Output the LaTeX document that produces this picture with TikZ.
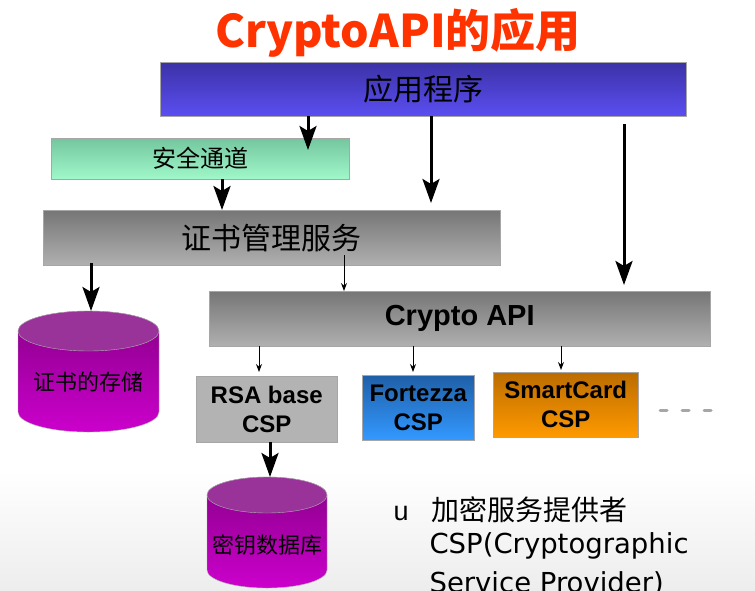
\documentclass[tikz,border=0pt]{standalone}
\usepackage{fontspec}
\setmainfont{Liberation Sans}
\newfontfamily\cjk{Noto Sans CJK SC}
\newfontfamily\comic{DejaVu Sans}
\usetikzlibrary{arrows.meta, positioning}

\definecolor{titlered}{HTML}{FF3300}
\definecolor{apptop}{HTML}{3B32A6}
\definecolor{appbot}{HTML}{5B4EF2}
\definecolor{safetop}{HTML}{74C69E}
\definecolor{safebot}{HTML}{A0F8CA}
\definecolor{graytop}{HTML}{767676}
\definecolor{graybot}{HTML}{B0B0B0}
\definecolor{rsafill}{HTML}{B3B3B3}
\definecolor{forttop}{HTML}{1F5FA8}
\definecolor{fortbot}{HTML}{3399FF}
\definecolor{smarttop}{HTML}{BB6C00}
\definecolor{smartbot}{HTML}{FF9A00}
\definecolor{cylcap}{HTML}{993399}
\definecolor{cyltop}{HTML}{880088}
\definecolor{cylbot}{HTML}{CC00CC}

\tikzset{
	box/.style={draw=gray!70, anchor=north west, inner sep=0pt, align=center},
	cjktext/.style={font=\cjk\fontsize{#1}{#1}\selectfont},
	csptext/.style={font=\bfseries\fontsize{24}{29}\selectfont},
	bigarrow/.style={line width=3pt, -{Stealth[length=24pt, width=17pt, inset=5pt]}},
	smallarrow/.style={line width=1pt, -{Stealth[length=8pt, width=6pt]}},
}

\begin{document}
\begin{tikzpicture}[x=1pt, y=1pt]
	\useasboundingbox (0,0) rectangle (755,-590);
	\clip (0,0) rectangle (755,-590);
	% Background and title:
	\shade[top color=white, bottom color=gray!14] (0,-470) rectangle (755,-590);
	\node[font=\cjk\bfseries\fontsize{45}{50}\selectfont, text=titlered] (title) at (398,-33) {CryptoAPI的应用};

	% Boxes:
	\node[box, top color=apptop, bottom color=appbot, minimum width=526, minimum height=54, cjktext=30] (app) at (160,-62) {应用程序};
	\node[box, top color=safetop, bottom color=safebot, minimum width=298, minimum height=41, cjktext=24] (safe) at (51,-138) {安全通道};
	\node[box, top color=graytop, bottom color=graybot, minimum width=457, minimum height=55, cjktext=30] (cert) at (43,-210) {证书管理服务};
	\node[box, top color=graytop, bottom color=graybot, minimum width=501, minimum height=55, font=\bfseries\fontsize{29}{32}\selectfont] (api) at (209,-291) {Crypto API};
	\node[box, fill=rsafill, minimum width=141, minimum height=66, csptext] (rsa) at (196,-376) {RSA base\\CSP};
	\node[box, top color=forttop, bottom color=fortbot, minimum width=112, minimum height=65, csptext] (fort) at (362,-375) {Fortezza\\CSP};
	\node[box, top color=smarttop, bottom color=smartbot, minimum width=145, minimum height=65, csptext] (smart) at (493,-372) {SmartCard\\CSP};
	\draw[gray!70, line width=3pt, line cap=round, dash pattern=on 7pt off 15pt] (660,-410) -- (714,-410);

	% Cylinders:
	\shade[top color=cyltop, bottom color=cylbot, draw=gray!60] (18,-331) -- (18,-412) arc[start angle=180, end angle=360, x radius=70.5, y radius=20] -- (159,-331) arc[start angle=0, end angle=180, x radius=70.5, y radius=20] -- cycle;
	\filldraw[fill=cylcap, draw=gray!60] (88.5,-331) ellipse[x radius=70.5, y radius=20];
	\node[cjktext=22] (certstore) at (89,-382) {证书的存储};
	\coordinate (certtop) at (91,-311);

	\shade[top color=cyltop, bottom color=cylbot, draw=gray!60] (207,-495) -- (207,-570) arc[start angle=180, end angle=360, x radius=60, y radius=18] -- (327,-495) arc[start angle=0, end angle=180, x radius=60, y radius=18] -- cycle;
	\filldraw[fill=cylcap, draw=gray!60] (267,-495) ellipse[x radius=60, y radius=18];
	\node[cjktext=22] (keydb) at (267,-545) {密钥数据库};
	\coordinate (keytop) at (270,-477);

	% Arrows:
	\draw[bigarrow, shorten >=-12pt] (app.south -| 308,0) -- (safe.north -| 308,0);
	\draw[bigarrow, shorten >=7pt] (app.south -| 431,0) -- (cert.north -| 431,0);
	\draw[bigarrow, shorten <=8pt, shorten >=6pt] (app.south -| 624,0) -- (api.north -| 624,0);
	\draw[bigarrow] (safe.south -| 222,0) -- (cert.north -| 222,0);
	\draw[bigarrow, shorten <=-2pt] (cert.south -| certtop) -- (certtop);
	\draw[bigarrow] (rsa.south -| keytop) -- (keytop);
	\draw[smallarrow, shorten <=-10pt] (cert.south -| 344,0) -- (api.north -| 344,0);
	\draw[smallarrow, shorten >=4pt] (api.south -| 259,0) -- (rsa.north -| 259,0);
	\draw[smallarrow, shorten >=3pt] (api.south -| 413,0) -- (fort.north -| 413,0);
	\draw[smallarrow, shorten >=2pt] (api.south -| 561,0) -- (smart.north -| 561,0);

	% Note:
	\node[anchor=base west, font=\fontsize{27}{30}\selectfont] (bullet) at (390,-520) {u};
	\node[anchor=base west, cjktext=28] (cspcn) at (428,-520) {加密服务提供者};
	\node[anchor=base west, font=\comic\fontsize{27.5}{30}\selectfont] (cspen) at (426,-553) {CSP(Cryptographic};
	\node[anchor=base west, font=\comic\fontsize{27.5}{30}\selectfont] (cspen2) at (426,-592) {Service Provider)};
\end{tikzpicture}
\end{document}
